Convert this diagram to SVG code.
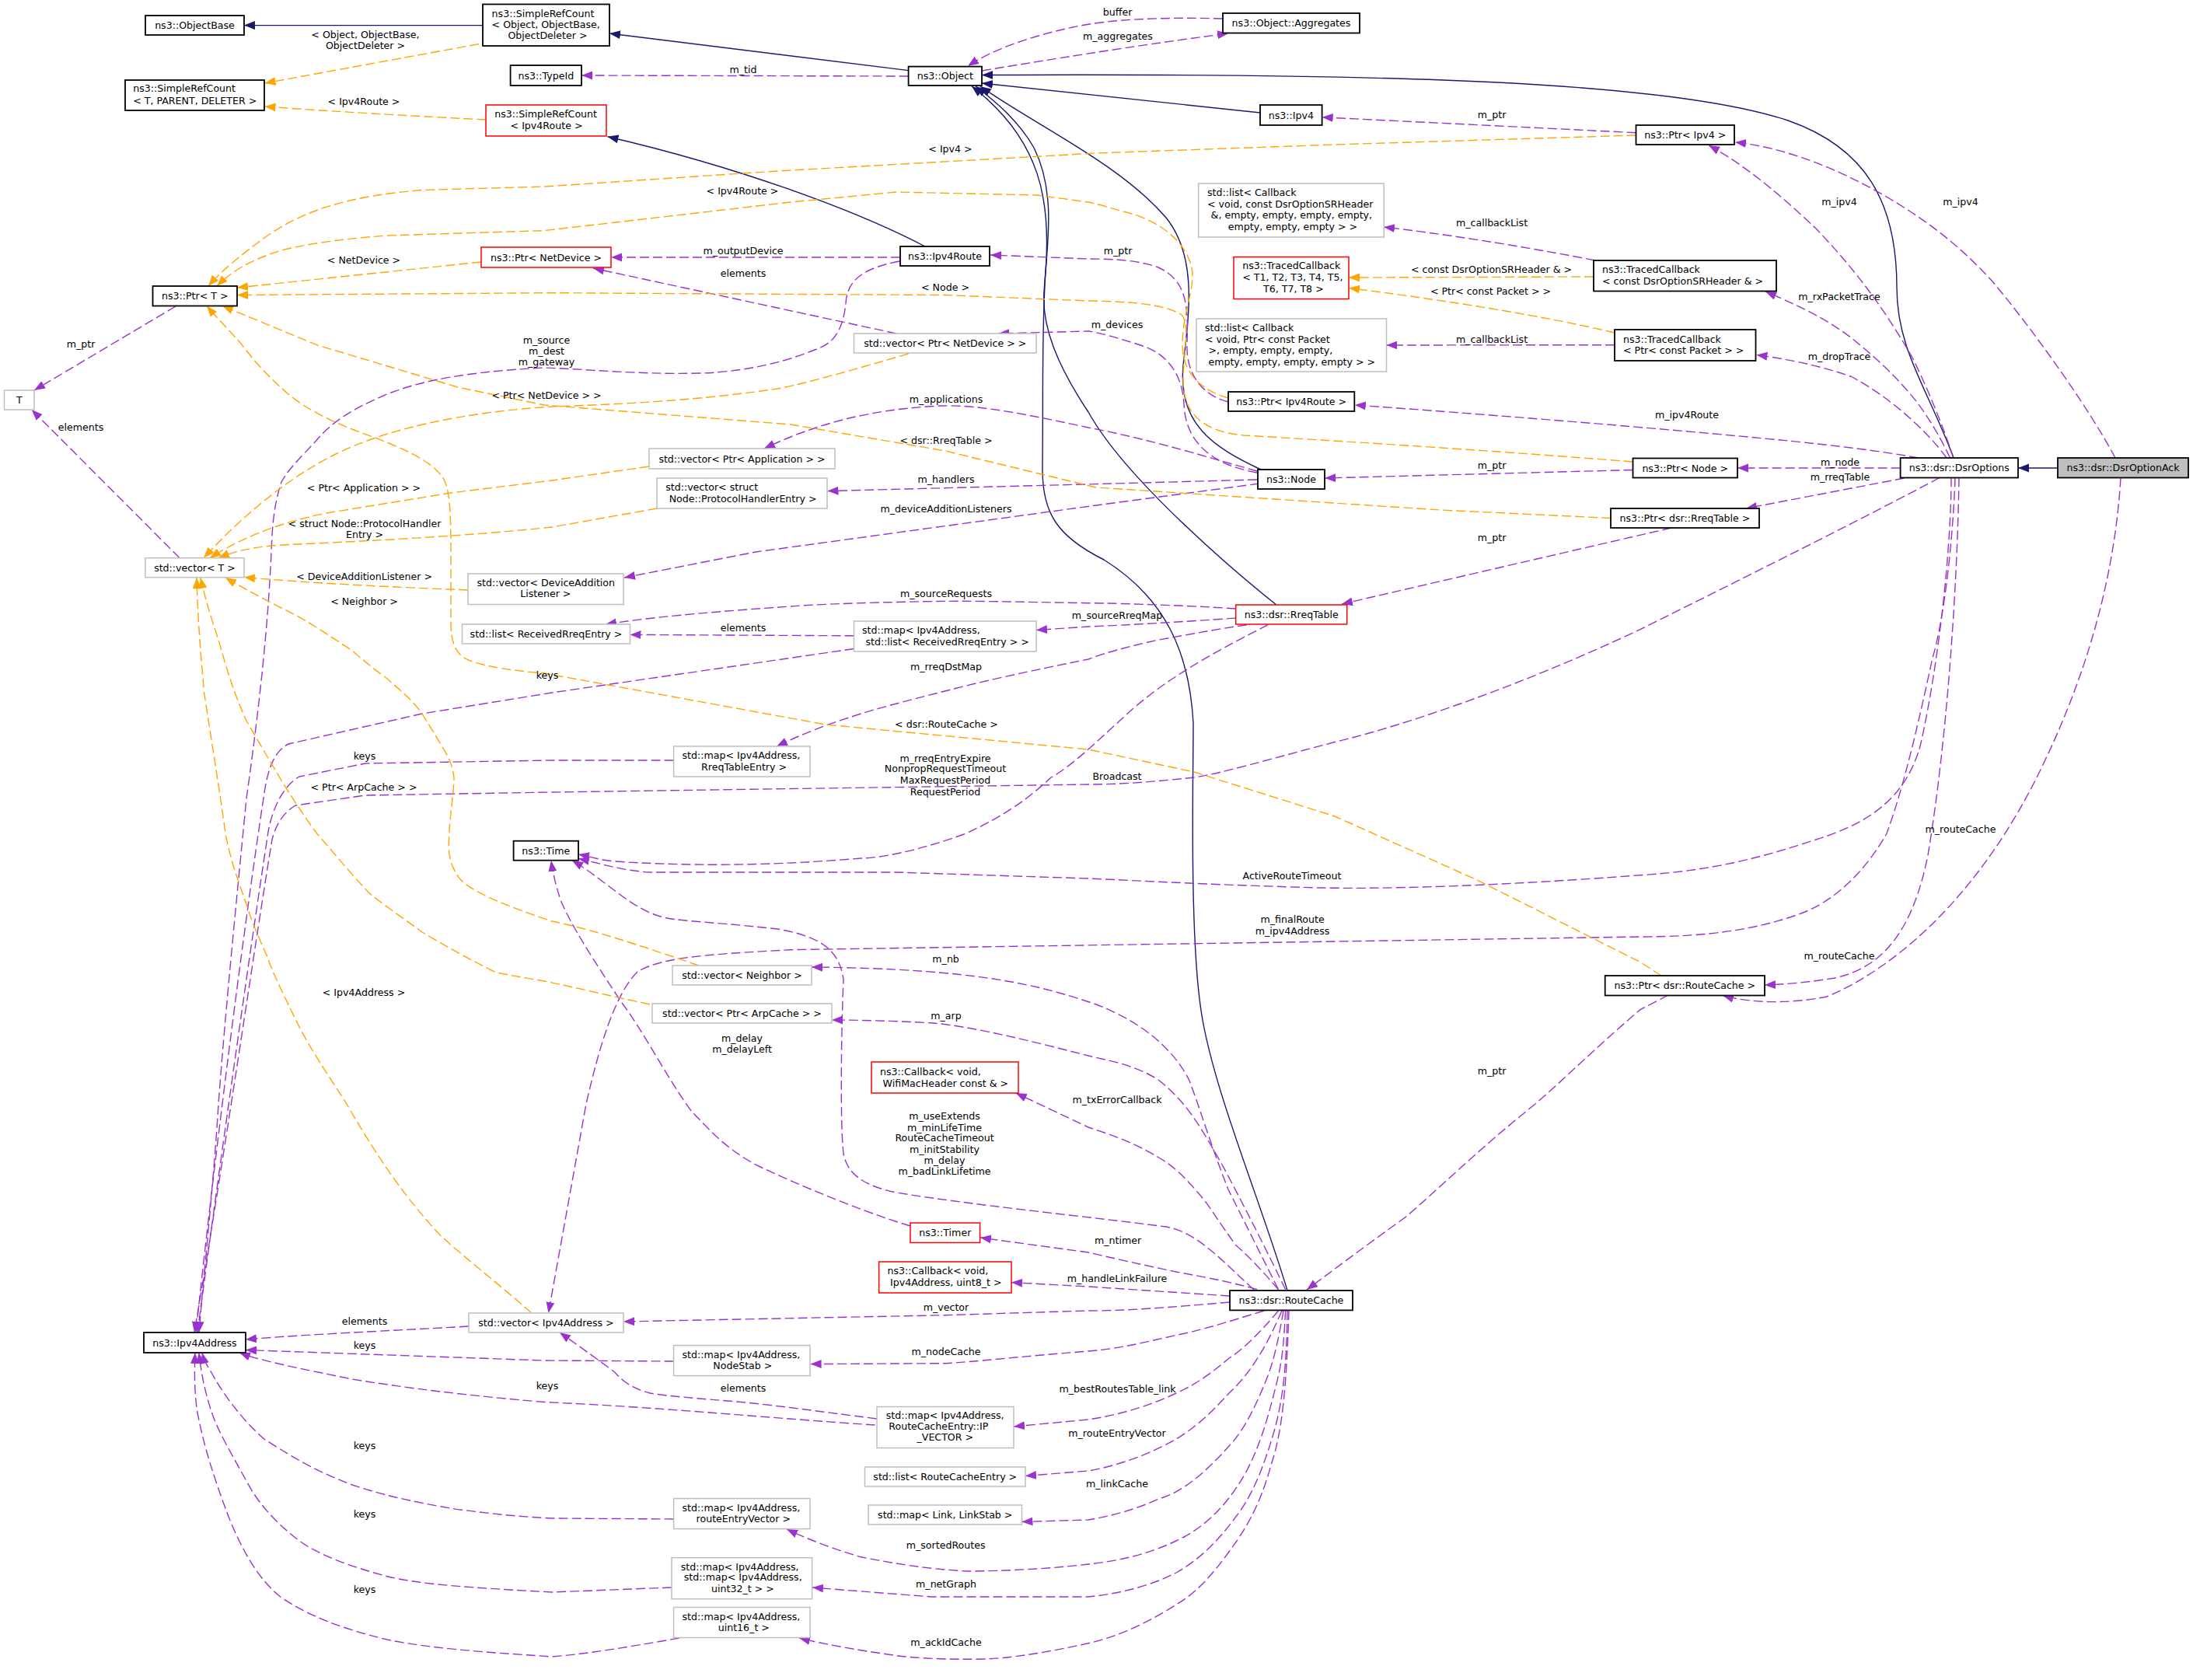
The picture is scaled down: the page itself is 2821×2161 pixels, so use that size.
<svg xmlns="http://www.w3.org/2000/svg" width="2821" height="2161" viewBox="0 0 2821 2161">
<style>
text{font-family:'DejaVu Sans','Liberation Sans',sans-serif;font-size:12.6px;fill:#000}
.l{text-anchor:middle}
.c{text-anchor:middle}
.n rect{fill:#fff;stroke:#000;stroke-width:1.8}
.g rect{fill:#fff;stroke:#bfbfbf;stroke-width:1.5}
.r rect{fill:#fff;stroke:#ff0000;stroke-width:1.5}
.cur rect{fill:#bfbfbf;stroke:#000;stroke-width:1.8}
.inh{fill:none;stroke:#191970;stroke-width:1.4;marker-end:url(#an)}
.use{fill:none;stroke:#9a32cd;stroke-width:1.4;stroke-dasharray:12,5;marker-end:url(#ap)}
.tpl{fill:none;stroke:#ffa500;stroke-width:1.4;stroke-dasharray:12,5;marker-end:url(#ao)}
</style>
<defs>
<marker id="an" markerWidth="15" markerHeight="12" refX="14" refY="5.5" orient="auto" markerUnits="userSpaceOnUse"><path d="M0,0 L14,5.5 L0,11 z" fill="#191970"/></marker>
<marker id="ap" markerWidth="15" markerHeight="12" refX="14" refY="5.5" orient="auto" markerUnits="userSpaceOnUse"><path d="M0,0 L14,5.5 L0,11 z" fill="#9a32cd"/></marker>
<marker id="ao" markerWidth="15" markerHeight="12" refX="14" refY="5.5" orient="auto" markerUnits="userSpaceOnUse"><path d="M0,0 L14,5.5 L0,11 z" fill="#ffa500"/></marker>
</defs>
<rect x="0" y="0" width="2821" height="2161" fill="#fff"/>
<g id="edges">
<path class="inh" d="M621,32.6 L314,32.6"/>
<path class="inh" d="M1168.6,90.6 L784,43"/>
<path class="inh" d="M1621,145 L1263,107"/>
<path class="inh" d="M2513,589 C2480,500 2440,450 2440,370 C2440,260 2400,190 2300,155 C2150,105 1800,94 1263,96.5"/>
<path class="inh" d="M1190,317 C1100,270 950,215 781.5,175.7"/>
<path class="inh" d="M1622,604 C1560,575 1515,545 1522,470 C1530,400 1540,330 1500,280 C1440,210 1330,160 1261,111"/>
<path class="inh" d="M1642,778 C1600,745 1450,620 1400,530 C1360,470 1340,420 1343,376 C1346,320 1360,250 1330,190 C1310,155 1280,130 1255,111"/>
<path class="inh" d="M1656,1660 C1620,1540 1560,1400 1545,1300 C1530,1200 1535,1000 1535,930 C1530,840 1500,770 1420,720 C1360,690 1340,660 1341,600 C1342,500 1340,420 1345,350 C1352,260 1340,180 1250,111"/>
<path class="inh" d="M2647,602 L2596,602"/>

<path class="use" d="M1168.6,98 L748,97"/>
<path class="use" d="M1263,91 C1330,80 1450,60 1580,43"/>
<path class="use" d="M1573,24 C1500,22 1430,24 1380,35 C1320,48 1275,65 1245,85"/>
<path class="use" d="M2104.5,170.7 L1700.7,150.8"/>
<path class="use" d="M1158,331 L786,331"/>
<path class="use" d="M1580,517 C1545,508 1525,480 1527,440 C1529,390 1525,360 1490,344 C1460,333 1420,333 1400,333 L1274,328"/>
<path class="use" d="M2100.5,604.5 L1704,615"/>
<path class="use" d="M1617,608 C1560,598 1525,570 1523,520 C1521,480 1500,455 1470,445 C1440,435 1410,427 1400,426 L1284,429"/>
<path class="use" d="M1153,429 L763,345"/>
<path class="use" d="M1617,606 C1560,590 1480,565 1400,550 C1330,535 1260,520 1211,522 C1120,526 1050,545 983,577"/>
<path class="use" d="M1617,617 L1410,622.6 L1064.5,631.6"/>
<path class="use" d="M1620,622 L1410,650 L972,710 L803,743"/>
<path class="use" d="M2150,679 L1726,777"/>
<path class="use" d="M2449.6,615 L2246,654"/>
<path class="use" d="M2444.6,602 L2235,602"/>
<path class="use" d="M2467.7,589 C2420,580 2350,572 2300,567 C2150,552 1900,532 1742.8,521"/>
<path class="use" d="M2504,589 C2480,555 2430,510 2381.7,484.5 C2340,470 2300,462 2259.4,456.4"/>
<path class="use" d="M2508.5,589 C2490,550 2470,520 2449.6,498 C2425,470 2400,450 2381.7,434.7 C2355,415 2330,400 2271,375"/>
<path class="use" d="M2513,589 C2500,550 2480,500 2460,460 C2420,390 2380,340 2336,294 C2300,260 2250,215 2198,187"/>
<path class="use" d="M2721,589 C2690,530 2620,430 2563,362 C2520,315 2480,285 2430,255 C2370,220 2300,190 2232,183"/>
<path class="use" d="M2515,614.5 C2512,700 2500,800 2486,846 C2470,920 2450,1010 2427,1072 C2400,1120 2360,1160 2314,1176 C2260,1195 2200,1205 2110,1205 L1017,1221.7 C900,1228 850,1232 820,1250 C790,1280 770,1350 754,1420 L705.5,1689"/>
<path class="use" d="M2510,614.5 C2510,700 2495,850 2470,960 C2450,1030 2400,1060 2336,1080 C2260,1105 2200,1120 2110,1125.7 C1950,1138 1800,1144 1700,1142 C1550,1138 1450,1132 1400,1130 L1153,1122 L836,1122 C800,1120 770,1110 744,1104.5"/>
<path class="use" d="M2520,614.5 C2518,750 2505,950 2480,1100 C2460,1200 2420,1245 2360,1258 C2330,1263 2300,1266 2270,1267"/>
<path class="use" d="M2728,614.5 C2720,750 2680,880 2620,1000 C2550,1140 2450,1240 2350,1282 C2300,1292 2250,1290 2216,1280.5"/>
<path class="use" d="M2495,614.5 C2400,665 2250,740 2110,809.6 C1950,885 1800,935 1717,954.5 C1620,980 1570,995 1536,1000 C1480,1006 1440,1009 1400,1009 L710,1019 L470,1023 L380,1036 C365,1045 355,1060 350,1080 C330,1200 290,1480 250,1714"/>
<path class="use" d="M1631,803.7 C1580,830 1500,870 1445,923 C1420,945 1380,985 1352,1000 C1320,1030 1290,1050 1243,1072 C1180,1095 1130,1104 1107.5,1104 C1000,1113 900,1115 790.6,1108 C770,1106 760,1102 744,1099"/>
<path class="use" d="M1171,1577 C1130,1565 1050,1535 971.7,1498 C930,1475 910,1450 890,1430 C860,1390 830,1330 800,1290 C760,1230 735,1190 722,1160 C715,1140 711,1122 709,1107"/>
<path class="use" d="M1613,1659 C1570,1620 1540,1585 1500,1578 C1400,1565 1250,1550 1153,1534 C1110,1525 1090,1510 1085,1484 C1080,1440 1083,1300 1085,1260 C1080,1225 1060,1205 1000,1195 C940,1188 880,1185 858,1181 C830,1175 810,1160 790,1145 C770,1130 752,1116 736,1107"/>
<path class="use" d="M1644.5,1658.7 C1620,1610 1600,1570 1580,1530 C1560,1480 1545,1430 1530,1390 C1510,1350 1470,1315 1410,1292 C1340,1268 1260,1246 1044,1244"/>
<path class="use" d="M1653.6,1658.7 C1635,1620 1600,1550 1572,1498 C1550,1460 1530,1420 1490,1389 C1460,1370 1430,1365 1400,1358 C1330,1340 1250,1320 1200,1316 C1150,1313 1100,1312 1070,1312"/>
<path class="use" d="M1644.5,1658.7 C1620,1630 1600,1610 1590,1602 C1570,1575 1555,1550 1545,1538.7 C1525,1515 1510,1500 1490.6,1489 C1460,1470 1430,1460 1400,1450 L1306.7,1406"/>
<path class="use" d="M1617,1658.7 C1580,1648 1550,1643 1513,1636 C1470,1627 1430,1618 1400,1611 L1261,1592"/>
<path class="use" d="M1582,1667 L1400,1655 L1301,1649.6"/>
<path class="use" d="M1582,1675 C1500,1682 1450,1686 1400,1686 L1216,1691.7 L802,1700"/>
<path class="use" d="M1128,1825 C1050,1815 1000,1808 953.6,1803.5 C900,1799 860,1796 836,1792 C810,1785 800,1775 790.6,1765 C760,1742 740,1728 720,1714"/>
<path class="use" d="M1626,1686 C1580,1700 1550,1710 1513,1717.5 C1470,1727 1440,1735 1400,1738 C1300,1746 1250,1752 1216,1753.7 L1042.6,1754.6"/>
<path class="use" d="M1644.5,1686 C1620,1715 1600,1735 1581,1747 C1560,1765 1540,1780 1513,1792 C1480,1808 1440,1820 1400,1826 L1304,1835"/>
<path class="use" d="M1649,1686 C1630,1730 1610,1765 1581,1792 C1560,1815 1540,1835 1513,1851 C1480,1870 1440,1885 1400,1892 L1319,1898.6"/>
<path class="use" d="M1651,1686 C1645,1720 1640,1745 1631,1769.6 C1615,1810 1600,1840 1581,1860 C1550,1895 1520,1920 1490.6,1928 C1460,1942 1430,1950 1400,1955 L1314.5,1957.5"/>
<path class="use" d="M1653.6,1686 C1652,1720 1650,1745 1644.5,1769.6 C1630,1830 1620,1860 1603.7,1892 C1580,1935 1550,1965 1513,1982 C1480,1998 1440,2008 1400,2012 C1350,2018 1290,2021 1243,2021 C1190,2018 1150,2011 1107.5,2002.8 C1070,1992 1040,1980 1012,1967"/>
<path class="use" d="M1656,1686 C1655,1760 1650,1800 1640,1837.5 C1625,1890 1610,1925 1590,1950.7 C1565,1985 1540,2008 1513,2023 C1480,2040 1440,2050 1400,2054 L1198,2054 L1045,2042"/>
<path class="use" d="M1658,1686 C1655,1780 1650,1840 1635.5,1882.8 C1620,1940 1600,1970 1581,1996 C1560,2025 1540,2048 1513,2064 C1480,2085 1440,2105 1400,2113.7 C1350,2125 1300,2133 1266,2134 C1220,2135 1180,2133 1153,2129.6 C1100,2122 1060,2115 1028,2107"/>
<path class="use" d="M2146,1280 L2110,1298.6 C2050,1350 2010,1390 1975,1420 C1900,1480 1850,1530 1807.5,1566 C1760,1600 1720,1630 1681,1659"/>
<path class="use" d="M1098.5,817.8 L810.5,816.4"/>
<path class="use" d="M1589.7,795 C1520,800 1450,804 1400,806 L1333,810.5"/>
<path class="use" d="M1589.7,783 C1550,780 1450,776 1400,775.7 C1300,774 1250,773 1217,773.4 C1150,774 1050,777 1017,780 C900,788 830,795 779,803"/>
<path class="use" d="M1604,803.7 C1560,810 1520,818 1490.6,823 C1450,832 1420,840 1400,848 C1330,862 1280,873 1243,882 C1180,898 1140,908 1107.5,918 C1060,933 1030,945 999,960"/>
<path class="use" d="M866.6,978 L710,978 L470,982 L385,999 C365,1010 350,1040 345,1070 C325,1200 285,1480 254,1714"/>
<path class="use" d="M1098.5,834.5 L710,891 L543,918 L371,957 C355,965 345,985 340,1020 C320,1150 280,1450 252,1714"/>
<path class="use" d="M1157,336 C1110,345 1090,360 1088,390 C1085,420 1075,440 1053,448 C1000,470 950,478 904,480 C820,482 760,475 700,473 C600,478 540,490 498,507 C450,527 425,545 407.5,566 C385,590 370,605 362,620 C352,650 350,680 349,710 C345,800 335,900 317,1027 C305,1150 290,1300 281,1420 C275,1520 262,1640 256,1714"/>
<path class="use" d="M866.6,1751 L700,1750 L316,1736.5"/>
<path class="use" d="M1125.6,1833 C1000,1825 850,1810 700,1803.5 C600,1795 520,1785 453,1774 C400,1763 340,1752 308,1740"/>
<path class="use" d="M866.6,1954 L710,1953 C650,1950 620,1945 588.6,1941.6 C520,1930 490,1922 453,1910 C400,1890 370,1870 339.6,1851 C310,1825 285,1790 271.7,1765 C265,1755 262,1748 260,1740"/>
<path class="use" d="M864,2042 L710,2048 C600,2042 540,2038 498,2027.7 C450,2015 410,2000 385,1982 C350,1955 330,1930 317,1905 C295,1865 280,1840 271.7,1815 C262,1785 258,1760 256,1740"/>
<path class="use" d="M874,2107 C800,2120 750,2128 710,2131 C620,2125 550,2120 498,2109 C440,2095 400,2080 362,2055 C330,2030 310,1990 294,1951 C275,1900 262,1860 253.6,1815 C250,1790 250,1765 251,1740"/>
<path class="use" d="M603,1706 C500,1712 400,1716 316,1723"/>
<path class="use" d="M226,394 L44,502"/>
<path class="use" d="M231,717.7 L40.7,527"/>
<path class="use" d="M2052,335 C1950,315 1850,300 1780,292"/>
<path class="use" d="M2077,443.7 L1783.5,444"/>

<path class="tpl" d="M2104.5,174 L1717,186 L1410,197 L1000,220 L700,240 L543,244.5 C450,252 390,270 340,306 C310,328 285,348 268,368"/>
<path class="tpl" d="M619,337 L305,370"/>
<path class="tpl" d="M1580,512 C1545,502 1520,480 1521,440 C1522,400 1538,370 1533,345 C1528,318 1500,285 1445,272 C1420,265 1410,262 1400,260 L1334,251 L1153,247 L1017,260 L700,296.6 L498,303 C430,308 390,315 362,322 C320,335 297,350 279,368"/>
<path class="tpl" d="M2100.5,594 C1900,578 1700,566 1600,560 C1545,555 1522,530 1522,490 C1522,450 1532,420 1520,405 C1500,392 1460,388 1400,387 L1216,379.5 L710,376.7 L305,379.5"/>
<path class="tpl" d="M1168.6,455 C1100,475 1030,495 1000,500 C900,515 800,520 710,523 C600,530 500,550 430,585 C370,615 310,665 262,717.7"/>
<path class="tpl" d="M835,600 L710,618 L580,634 L420,660 C360,672 310,692 270,717.7"/>
<path class="tpl" d="M845,654 L710,678 C600,690 450,697 362,701 C320,704 300,710 281,717.7"/>
<path class="tpl" d="M602,759 C500,755 400,750 314,742.6"/>
<path class="tpl" d="M2072,666.5 L1853,656 L1410,627 L1216,580 L1017,546 L700,521 L588.6,498 L407.5,443.7 L286,393.5"/>
<path class="tpl" d="M2137,1255 L2110,1237.5 L1898,1131 L1717,1050 L1536,993 L1400,964 L1062,932 L700,866 C650,862 610,855 595,845 C583,835 580,820 580,800 L580,710 C580,650 578,625 568,612 C550,590 520,578 480,562 C430,545 395,527 371,507 C345,485 325,462 310,442 C295,425 278,408 266,393.5"/>
<path class="tpl" d="M683.7,1689 C640,1650 600,1620 566,1588.5 C520,1540 480,1480 446,1420 C420,1380 400,1350 385,1321 C365,1280 350,1250 344,1231 C330,1200 322,1180 317,1163 C305,1130 295,1100 290,1072 C280,1000 270,940 262.6,891 C258,840 254,790 253,743"/>
<path class="tpl" d="M836,1292 C780,1280 740,1270 700,1262 C660,1255 640,1252 634,1249 C600,1232 570,1215 543,1199 C520,1182 495,1165 475,1149 C450,1122 430,1098 407.5,1072 C390,1048 375,1025 362,1004 C345,975 330,950 317,927 C300,890 290,855 281,823 C270,790 264,770 258,743"/>
<path class="tpl" d="M899,1242 C820,1215 760,1195 710,1185 C650,1165 600,1145 588.6,1126.6 C578,1110 577,1095 577.3,1086 C578,1050 584,1020 584,1000 C582,985 578,975 570.5,963.6 C560,945 550,930 543,918 C530,900 515,888 498,873 C480,860 465,847 453,837 C420,815 390,795 362,782 C335,768 310,755 290,743"/>
<path class="tpl" d="M616,56.6 L340.5,107"/>
<path class="tpl" d="M625,154 C550,150 450,145 340.5,137"/>
<path class="tpl" d="M2050,356 L1735,357"/>
<path class="tpl" d="M2077,428 C1980,405 1850,385 1735,370.4"/>
</g>
<g id="edge-labels">
<text class="l" x="470" y="48.5">&lt; Object, ObjectBase,</text>
<text class="l" x="470" y="62.5">ObjectDeleter &gt;</text>
<text class="l" x="468" y="134.5">&lt; Ipv4Route &gt;</text>
<text class="l" x="468" y="338.5">&lt; NetDevice &gt;</text>
<text class="l" x="104" y="446.5">m_ptr</text>
<text class="l" x="104" y="553.5">elements</text>
<text class="l" x="468" y="631.5">&lt; Ptr&lt; Application &gt; &gt;</text>
<text class="l" x="469" y="677.5">&lt; struct Node::ProtocolHandler</text>
<text class="l" x="469" y="691.5">Entry &gt;</text>
<text class="l" x="703" y="441.5">m_source</text>
<text class="l" x="703" y="455.5">m_dest</text>
<text class="l" x="703" y="469.5">m_gateway</text>
<text class="l" x="703" y="512.5">&lt; Ptr&lt; NetDevice &gt; &gt;</text>
<text class="l" x="956" y="93.5">m_tid</text>
<text class="l" x="1222.5" y="196">&lt; Ipv4 &gt;</text>
<text class="l" x="955" y="249.5">&lt; Ipv4Route &gt;</text>
<text class="l" x="956" y="326.5">m_outputDevice</text>
<text class="l" x="956" y="355.5">elements</text>
<text class="l" x="1216" y="373.5">&lt; Node &gt;</text>
<text class="l" x="1217" y="517.5">m_applications</text>
<text class="l" x="1217" y="570.5">&lt; dsr::RreqTable &gt;</text>
<text class="l" x="1217" y="620.5">m_handlers</text>
<text class="l" x="1217" y="658.5">m_deviceAdditionListeners</text>
<text class="l" x="1437" y="421.5">m_devices</text>
<text class="l" x="1437.6" y="19.5">buffer</text>
<text class="l" x="1438" y="50.5">m_aggregates</text>
<text class="l" x="1438" y="326.5">m_ptr</text>
<text class="l" x="1919" y="151.5">m_ptr</text>
<text class="l" x="1919" y="290.5">m_callbackList</text>
<text class="l" x="1918.5" y="350.5">&lt; const DsrOptionSRHeader &amp; &gt;</text>
<text class="l" x="1917.5" y="378.5">&lt; Ptr&lt; const Packet &gt; &gt;</text>
<text class="l" x="1919" y="440.5">m_callbackList</text>
<text class="l" x="1919" y="602.5">m_ptr</text>
<text class="l" x="1919" y="695.5">m_ptr</text>
<text class="l" x="2366" y="263.5">m_ipv4</text>
<text class="l" x="2522" y="263.5">m_ipv4</text>
<text class="l" x="2366" y="385.5">m_rxPacketTrace</text>
<text class="l" x="2366" y="462.5">m_dropTrace</text>
<text class="l" x="2170" y="537.5">m_ipv4Route</text>
<text class="l" x="2367" y="598.5">m_node</text>
<text class="l" x="2367" y="618">m_rreqTable</text>
<text class="l" x="468.6" y="746.2">&lt; DeviceAdditionListener &gt;</text>
<text class="l" x="468.6" y="777.5">&lt; Neighbor &gt;</text>
<text class="l" x="704" y="872.5">keys</text>
<text class="l" x="469" y="976.5">keys</text>
<text class="l" x="468" y="1016.5">&lt; Ptr&lt; ArpCache &gt; &gt;</text>
<text class="l" x="468" y="1281">&lt; Ipv4Address &gt;</text>
<text class="l" x="1217" y="767.9">m_sourceRequests</text>
<text class="l" x="956" y="811.5">elements</text>
<text class="l" x="1437" y="796">m_sourceRreqMap</text>
<text class="l" x="1217" y="862.1">m_rreqDstMap</text>
<text class="l" x="1217.5" y="935.5">&lt; dsr::RouteCache &gt;</text>
<text class="l" x="1216" y="979.5">m_rreqEntryExpire</text>
<text class="l" x="1216" y="993">NonpropRequestTimeout</text>
<text class="l" x="1216" y="1007.5">MaxRequestPeriod</text>
<text class="l" x="1216" y="1022.5">RequestPeriod</text>
<text class="l" x="1437" y="1003">Broadcast</text>
<text class="l" x="1216.6" y="1237.5">m_nb</text>
<text class="l" x="1217" y="1310.5">m_arp</text>
<text class="l" x="954.5" y="1339.5">m_delay</text>
<text class="l" x="954.5" y="1353.5">m_delayLeft</text>
<text class="l" x="1437" y="1418.5">m_txErrorCallback</text>
<text class="l" x="1662" y="1131.1">ActiveRouteTimeout</text>
<text class="l" x="1662.6" y="1186.5">m_finalRoute</text>
<text class="l" x="1662.6" y="1201.5">m_ipv4Address</text>
<text class="l" x="1919" y="1381.5">m_ptr</text>
<text class="l" x="2522" y="1070.5">m_routeCache</text>
<text class="l" x="2366" y="1233.5">m_routeCache</text>
<text class="l" x="469" y="1703.9">elements</text>
<text class="l" x="469" y="1735.1">keys</text>
<text class="l" x="704" y="1786.5">keys</text>
<text class="l" x="469" y="1863.5">keys</text>
<text class="l" x="469" y="1951.5">keys</text>
<text class="l" x="469" y="2048.5">keys</text>
<text class="l" x="1215" y="1439.9">m_useExtends</text>
<text class="l" x="1215" y="1454.5">m_minLifeTime</text>
<text class="l" x="1215" y="1468">RouteCacheTimeout</text>
<text class="l" x="1215" y="1482.5">m_initStability</text>
<text class="l" x="1215" y="1497">m_delay</text>
<text class="l" x="1215" y="1510.5">m_badLinkLifetime</text>
<text class="l" x="1438" y="1599.5">m_ntimer</text>
<text class="l" x="1437" y="1648.5">m_handleLinkFailure</text>
<text class="l" x="1217" y="1685.5">m_vector</text>
<text class="l" x="1217" y="1742.5">m_nodeCache</text>
<text class="l" x="956" y="1789.5">elements</text>
<text class="l" x="1437.5" y="1790.5">m_bestRoutesTable_link</text>
<text class="l" x="1437" y="1847.5">m_routeEntryVector</text>
<text class="l" x="1437" y="1912.5">m_linkCache</text>
<text class="l" x="1216.6" y="1991.5">m_sortedRoutes</text>
<text class="l" x="1217" y="2041.5">m_netGraph</text>
<text class="l" x="1217" y="2116.5">m_ackIdCache</text>
</g>

<g id="n_ObjectBase" class="n"><rect x="187" y="20" width="127" height="25"/><text class="c" x="250.5" y="37">ns3::ObjectBase</text></g>
<g id="n_SimpleRefCountTPD" class="n"><rect x="161" y="103" width="179" height="39"/><text x="171.2" y="118.1">ns3::SimpleRefCount</text><text x="171.2" y="133.5">&lt; T, PARENT, DELETER &gt;</text></g>
<g id="n_SimpleRefCountObject" class="n"><rect x="621" y="5.5" width="163" height="53.5"/><text x="632.6" y="21.7">ns3::SimpleRefCount</text><text x="632.6" y="36.2">&lt; Object, ObjectBase,</text><text x="653.4" y="50.2">ObjectDeleter &gt;</text></g>
<g id="n_TypeId" class="n"><rect x="656.6" y="84" width="91.4" height="26"/><text class="c" x="702.3" y="101.5">ns3::TypeId</text></g>
<g id="n_SimpleRefCountIpv4Route" class="r"><rect x="625" y="135" width="155" height="40"/><text x="636.2" y="150.8">ns3::SimpleRefCount</text><text x="656.6" y="165.7">&lt; Ipv4Route &gt;</text></g>
<g id="n_Object" class="n"><rect x="1168.6" y="85.6" width="94.4" height="24.4"/><text class="c" x="1215.8" y="102.3">ns3::Object</text></g>
<g id="n_Aggregates" class="n"><rect x="1573" y="17" width="176" height="25.5"/><text class="c" x="1661" y="34.2">ns3::Object::Aggregates</text></g>
<g id="n_Ipv4" class="n"><rect x="1621" y="135" width="79.6" height="26"/><text class="c" x="1660.8" y="152.5">ns3::Ipv4</text></g>
<g id="n_PtrIpv4" class="n"><rect x="2104.5" y="161" width="126.5" height="25"/><text class="c" x="2167.75" y="178">ns3::Ptr&lt; Ipv4 &gt;</text></g>
<g id="n_ListCbSRH" class="g"><rect x="1541.7" y="236" width="238.5" height="69"/><text x="1553" y="252.2">std::list&lt; Callback</text><text x="1553" y="267.1">&lt; void, const DsrOptionSRHeader</text><text x="1557.6" y="281.2">&amp;, empty, empty, empty, empty,</text><text x="1579.8" y="295.5">empty, empty, empty &gt; &gt;</text></g>
<g id="n_TracedCallbackT" class="r"><rect x="1587" y="330.5" width="148" height="54"/><text x="1598.3" y="345.5">ns3::TracedCallback</text><text x="1598.3" y="360.9">&lt; T1, T2, T3, T4, T5,</text><text x="1625" y="375.8">T6, T7, T8 &gt;</text></g>
<g id="n_ListCbPkt" class="g"><rect x="1539" y="410" width="244.5" height="68"/><text x="1549.9" y="426">std::list&lt; Callback</text><text x="1549.9" y="440.5">&lt; void, Ptr&lt; const Packet</text><text x="1554.4" y="455">&gt;, empty, empty, empty,</text><text x="1554.4" y="469.5">empty, empty, empty, empty &gt; &gt;</text></g>
<g id="n_TracedCallbackSRH" class="n"><rect x="2050" y="335" width="235" height="39.5"/><text x="2061" y="350.9">ns3::TracedCallback</text><text x="2061" y="365.8">&lt; const DsrOptionSRHeader &amp; &gt;</text></g>
<g id="n_TracedCallbackPkt" class="n"><rect x="2077" y="424" width="181.5" height="40"/><text x="2088" y="440.5">ns3::TracedCallback</text><text x="2088" y="454.5">&lt; Ptr&lt; const Packet &gt; &gt;</text></g>
<g id="n_PtrT" class="n"><rect x="196.5" y="368" width="108.5" height="25.5"/><text class="c" x="250.75" y="385.2">ns3::Ptr&lt; T &gt;</text></g>
<g id="n_PtrNetDevice" class="r"><rect x="619" y="318" width="167" height="26"/><text class="c" x="702.5" y="335.5">ns3::Ptr&lt; NetDevice &gt;</text></g>
<g id="n_Ipv4Route" class="n"><rect x="1158" y="317" width="115" height="25"/><text class="c" x="1215.5" y="334">ns3::Ipv4Route</text></g>
<g id="n_VecPtrNetDevice" class="g"><rect x="1098.5" y="429" width="234.5" height="25"/><text class="c" x="1215.75" y="446">std::vector&lt; Ptr&lt; NetDevice &gt; &gt;</text></g>
<g id="n_T" class="g"><rect x="5.5" y="502" width="38.5" height="25"/><text class="c" x="24.75" y="519">T</text></g>
<g id="n_PtrIpv4Route" class="n"><rect x="1580" y="504" width="162.3" height="25"/><text class="c" x="1661.15" y="521">ns3::Ptr&lt; Ipv4Route &gt;</text></g>
<g id="n_VecPtrApplication" class="g"><rect x="835" y="577" width="239" height="26"/><text class="c" x="954.5" y="594.5">std::vector&lt; Ptr&lt; Application &gt; &gt;</text></g>
<g id="n_VecProtocolHandler" class="g"><rect x="845" y="615" width="219" height="39"/><text x="856.2" y="631.2">std::vector&lt; struct</text><text x="860.7" y="645.7">Node::ProtocolHandlerEntry &gt;</text></g>
<g id="n_Node" class="n"><rect x="1618" y="604" width="86" height="25"/><text class="c" x="1661" y="621">ns3::Node</text></g>
<g id="n_PtrNode" class="n"><rect x="2100.5" y="589.5" width="134.5" height="25"/><text class="c" x="2167.75" y="606.5">ns3::Ptr&lt; Node &gt;</text></g>
<g id="n_PtrRreqTable" class="n"><rect x="2072" y="654" width="191" height="25"/><text class="c" x="2167.5" y="671">ns3::Ptr&lt; dsr::RreqTable &gt;</text></g>
<g id="n_DsrOptions" class="n"><rect x="2444.6" y="589" width="151.4" height="25.5"/><text class="c" x="2520.3" y="606.2">ns3::dsr::DsrOptions</text></g>
<g id="n_DsrOptionAck" class="cur"><rect x="2647" y="589" width="168" height="25.5"/><text class="c" x="2731" y="606.2">ns3::dsr::DsrOptionAck</text></g>
<g id="n_VecT" class="g"><rect x="187" y="717.7" width="127" height="25"/><text class="c" x="250.5" y="734.7">std::vector&lt; T &gt;</text></g>
<g id="n_VecDeviceAdditionListener" class="g"><rect x="602" y="738" width="200" height="39.5"/><text x="613.5" y="754.3">std::vector&lt; DeviceAddition</text><text x="669.2" y="767.9">Listener &gt;</text></g>
<g id="n_ListReceivedRreqEntry" class="g"><rect x="594.5" y="803" width="216" height="25"/><text class="c" x="702.5" y="820">std::list&lt; ReceivedRreqEntry &gt;</text></g>
<g id="n_MapListReceivedRreqEntry" class="g"><rect x="1098.5" y="799" width="234.5" height="39"/><text x="1108.9" y="814.5">std::map&lt; Ipv4Address,</text><text x="1113.4" y="829.5">std::list&lt; ReceivedRreqEntry &gt; &gt;</text></g>
<g id="n_RreqTable" class="r"><rect x="1589.7" y="778" width="143" height="25"/><text class="c" x="1661.2" y="795">ns3::dsr::RreqTable</text></g>
<g id="n_MapRreqTableEntry" class="g"><rect x="866.6" y="960" width="175.4" height="39"/><text x="877.5" y="976.2">std::map&lt; Ipv4Address,</text><text x="902" y="991.2">RreqTableEntry &gt;</text></g>
<g id="n_Time" class="n"><rect x="660.6" y="1081.7" width="83.4" height="25"/><text class="c" x="702.3" y="1098.7">ns3::Time</text></g>
<g id="n_VecNeighbor" class="g"><rect x="865" y="1242" width="179" height="25"/><text class="c" x="954.5" y="1259">std::vector&lt; Neighbor &gt;</text></g>
<g id="n_VecPtrArpCache" class="g"><rect x="839" y="1291" width="231" height="25"/><text class="c" x="954.5" y="1308">std::vector&lt; Ptr&lt; ArpCache &gt; &gt;</text></g>
<g id="n_CallbackWifi" class="r"><rect x="1121" y="1366" width="189" height="40"/><text x="1132" y="1382.5">ns3::Callback&lt; void,</text><text x="1135.6" y="1397.5">WifiMacHeader const &amp; &gt;</text></g>
<g id="n_PtrRouteCache" class="n"><rect x="2064.7" y="1255" width="205.3" height="25.5"/><text class="c" x="2167.35" y="1272.2">ns3::Ptr&lt; dsr::RouteCache &gt;</text></g>
<g id="n_Timer" class="r"><rect x="1171" y="1573" width="89.6" height="25.4"/><text class="c" x="1215.8" y="1590.2">ns3::Timer</text></g>
<g id="n_CallbackIpv4" class="r"><rect x="1130.6" y="1623" width="170.4" height="40"/><text x="1141.5" y="1638.5">ns3::Callback&lt; void,</text><text x="1145" y="1653.5">Ipv4Address, uint8_t &gt;</text></g>
<g id="n_VecIpv4Address" class="g"><rect x="603" y="1689" width="199" height="25"/><text class="c" x="702.5" y="1706">std::vector&lt; Ipv4Address &gt;</text></g>
<g id="n_Ipv4Address" class="n"><rect x="185" y="1714" width="131" height="26"/><text class="c" x="250.5" y="1731.5">ns3::Ipv4Address</text></g>
<g id="n_RouteCache" class="n"><rect x="1582" y="1660" width="158" height="25.4"/><text class="c" x="1661" y="1677.2">ns3::dsr::RouteCache</text></g>
<g id="n_MapNodeStab" class="g"><rect x="866.6" y="1730.6" width="175.4" height="39"/><text x="877.5" y="1746.5">std::map&lt; Ipv4Address,</text><text x="917.3" y="1761">NodeStab &gt;</text></g>
<g id="n_MapIpVector" class="g"><rect x="1128" y="1809.5" width="176" height="53"/><text x="1139.7" y="1825.3">std::map&lt; Ipv4Address,</text><text x="1143.3" y="1838.8">RouteCacheEntry::IP</text><text x="1179.5" y="1853.3">_VECTOR &gt;</text></g>
<g id="n_ListRouteCacheEntry" class="g"><rect x="1112.5" y="1887" width="206.5" height="25"/><text class="c" x="1215.75" y="1904">std::list&lt; RouteCacheEntry &gt;</text></g>
<g id="n_MapLinkStab" class="g"><rect x="1117" y="1936" width="197.5" height="25"/><text class="c" x="1215.75" y="1953">std::map&lt; Link, LinkStab &gt;</text></g>
<g id="n_MapRouteEntryVector" class="g"><rect x="866.6" y="1927.6" width="175.4" height="39"/><text x="877.5" y="1943.9">std::map&lt; Ipv4Address,</text><text x="895.6" y="1957.5">routeEntryVector &gt;</text></g>
<g id="n_MapMap" class="g"><rect x="864" y="2003.7" width="180.6" height="53"/><text x="875.7" y="2019.5">std::map&lt; Ipv4Address,</text><text x="879.8" y="2033.1">std::map&lt; Ipv4Address,</text><text x="915" y="2047.5">uint32_t &gt; &gt;</text></g>
<g id="n_MapUint16" class="g"><rect x="866.6" y="2067.5" width="175.4" height="39"/><text x="877.5" y="2083.8">std::map&lt; Ipv4Address,</text><text x="923.7" y="2097.5">uint16_t &gt;</text></g>
</svg>
